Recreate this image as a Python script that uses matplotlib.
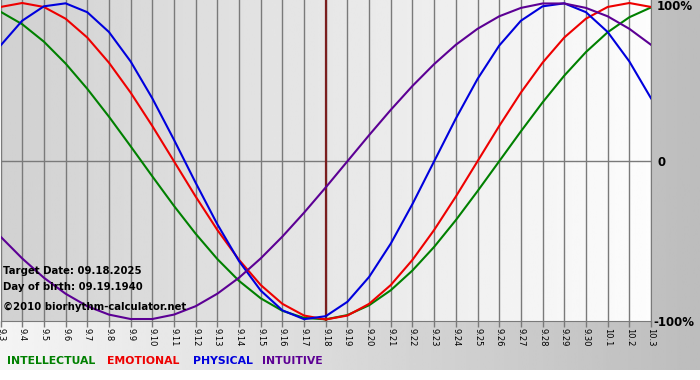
import numpy as np
import matplotlib
matplotlib.use('Agg')
import matplotlib.pyplot as plt

# day labels 9.3 .. 10.3
dias = ['9.%d' % d for d in range(3, 31)] + ['10.1', '10.2', '10.3']
dia_objetivo = '9.18'

# valores (-1 .. 1)
intelectual = [0.945, 0.866, 0.756, 0.618, 0.458, 0.282, 0.095, -0.095, -0.282, -0.458,
               -0.618, -0.756, -0.866, -0.945, -0.990, -0.999, -0.972, -0.910, -0.815, -0.690,
               -0.541, -0.372, -0.189, 0.0, 0.189, 0.372, 0.541, 0.690, 0.815, 0.910, 0.972]
emocional = [0.975, 1.0, 0.975, 0.901, 0.782, 0.623, 0.434, 0.223, 0.0, -0.223,
             -0.434, -0.623, -0.782, -0.901, -0.975, -1.0, -0.975, -0.901, -0.782, -0.623,
             -0.434, -0.223, 0.0, 0.223, 0.434, 0.623, 0.782, 0.901, 0.975, 1.0, 0.975]
fisico = [0.731, 0.888, 0.979, 0.998, 0.942, 0.817, 0.631, 0.398, 0.136, -0.136,
          -0.398, -0.631, -0.817, -0.942, -0.998, -0.979, -0.888, -0.731, -0.520, -0.270,
          0.0, 0.270, 0.520, 0.731, 0.888, 0.979, 0.998, 0.942, 0.817, 0.631, 0.398]
intuitivo = [-0.476, -0.614, -0.736, -0.837, -0.916, -0.969, -0.997, -0.997, -0.969, -0.916,
             -0.837, -0.736, -0.614, -0.476, -0.325, -0.165, 0.0, 0.165, 0.325, 0.476,
             0.614, 0.736, 0.837, 0.916, 0.969, 0.997, 0.997, 0.969, 0.916, 0.837, 0.736]

series = [('INTELLECTUAL', intelectual, '#008000'),
          ('EMOTIONAL', emocional, '#ee0000'),
          ('PHYSICAL', fisico, '#0000dd'),
          ('INTUITIVE', intuitivo, '#5c0094')]

W, H = 700, 380
fig = plt.figure(figsize=(W / 100, H / 100), dpi=100)
fig.patch.set_facecolor('white')

# fondo con degradado
bg = fig.add_axes([0, 0, 1, 1])
bg.set_xlim(0, W)
bg.set_ylim(H, 0)
grad = np.linspace(0.96, 0.74, 256).reshape(1, -1)
bg.imshow(grad, cmap='gray', vmin=0, vmax=1, extent=[0, W, 370, 0], aspect='auto')
bg.axis('off')

# area del grafico
x0, x1, ytop, ybot = 0.5, 651, 0, 321
ax = fig.add_axes([x0 / W, (H - ybot) / H, (x1 - x0) / W, (ybot - ytop) / H])
grad2 = np.linspace(0.82, 0.99, 256).reshape(1, -1)
ax.imshow(grad2, cmap='gray', vmin=0, vmax=1, extent=[0, 1, 0, 1],
          transform=ax.transAxes, aspect='auto', zorder=0)

x = np.arange(len(dias))
for xi in x:
    ax.axvline(xi, color='#7a7a7a', lw=1, zorder=1)
ax.axhline(0, color='#7a7a7a', lw=1, zorder=1)
ax.axvline(dias.index(dia_objetivo), color='#7a1e1e', lw=1.6, zorder=2)

for nombre, vals, col in series:
    ax.plot(x, vals, color=col, lw=1.5, zorder=3)

ax.set_xlim(0, len(dias) - 1)
ax.set_ylim(-1.0095, 1.019)
ax.set_xticks(x)
ax.set_xticklabels(dias, rotation=270, fontsize=6, color='black')
ax.tick_params(axis='x', length=4, width=1, color='#7a7a7a', pad=1)
ax.set_yticks([])
for s in ['top', 'left']:
    ax.spines[s].set_visible(False)
for s in ['bottom', 'right']:
    ax.spines[s].set_color('#7a7a7a')

# etiquetas del eje derecho
fig.text(657 / W, 1 - 7 / H, '100%', fontsize=8.5, fontweight='bold', va='center', ha='left')
fig.text(657 / W, 1 - 162 / H, '0', fontsize=8.5, fontweight='bold', va='center', ha='left')
fig.text(653 / W, 1 - 323 / H, '-100%', fontsize=8.5, fontweight='bold', va='center', ha='left')

# textos de la izquierda
fig.text(3 / W, 1 - 271 / H, 'Target Date: 09.18.2025', fontsize=7.3, fontweight='bold', va='center')
fig.text(3 / W, 1 - 287 / H, 'Day of birth: 09.19.1940', fontsize=7.3, fontweight='bold', va='center')
fig.text(3 / W, 1 - 307 / H, '\u00a92010 biorhythm-calculator.net', fontsize=7.3, fontweight='bold', va='center')

# leyenda
pos_ley = [7, 107, 193, 262]
for (nombre, vals, col), px in zip(series, pos_ley):
    fig.text(px / W, 1 - 361 / H, nombre, fontsize=7.8, fontweight='bold', color=col, va='center')

fig.savefig('out.png', dpi=100)
